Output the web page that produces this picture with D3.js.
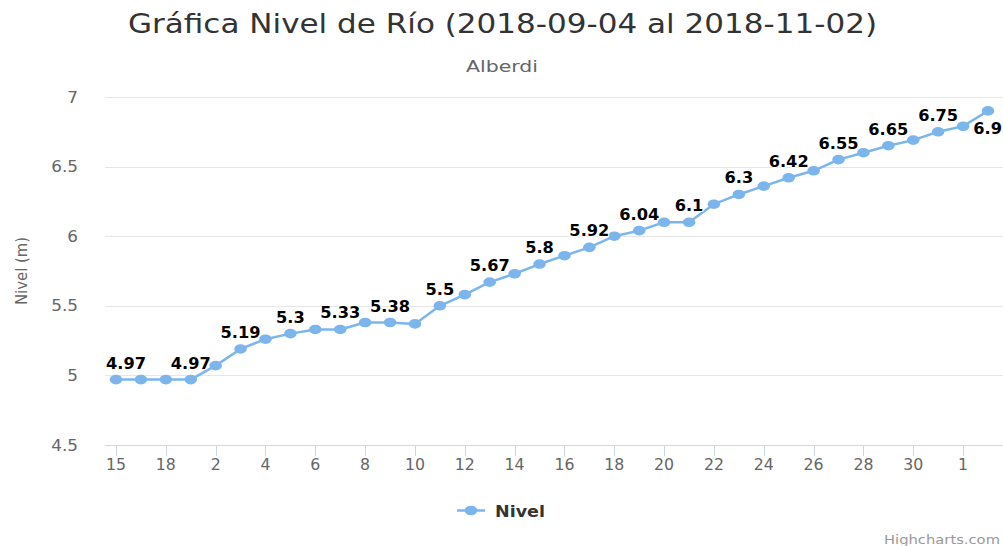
<!DOCTYPE html>
<html>
<head>
<meta charset="utf-8">
<script src="https://cdn.jsdelivr.net/npm/d3@7/dist/d3.min.js"></script>
<style>
  html, body { margin: 0; padding: 0; background: #fff; }
  svg { display: block; font-family: "DejaVu Sans", sans-serif; }
</style>
</head>
<body>
<div id="chart"></div>
<script>
// ---- données ----
const titleText    = 'Gráfica Nivel de Río (2018-09-04 al 2018-11-02)';
const subtitleText = 'Alberdi';
const yAxisTitle   = 'Nivel (m)';
const seriesName   = 'Nivel';

// jour du mois pour chaque mesure
const categories = ['15', '17', '18', '1', '2', '3', '4', '5', '6', '7', '8', '9', '10',
    '11', '12', '13', '14', '15', '16', '17', '18', '19', '20', '21', '22', '23', '24',
    '25', '26', '27', '28', '29', '30', '31', '1', '2'];

const nivel = [4.97, 4.97, 4.97, 4.97, 5.07, 5.19, 5.26, 5.30, 5.33, 5.33, 5.38, 5.38,
    5.37, 5.50, 5.58, 5.67, 5.73, 5.80, 5.86, 5.92, 6.00, 6.04, 6.10, 6.10, 6.23, 6.30,
    6.36, 6.42, 6.47, 6.55, 6.60, 6.65, 6.69, 6.75, 6.79, 6.90];

// étiquettes visibles (les autres sont masquées par chevauchement)
const labelled = [0, 3, 5, 7, 9, 11, 13, 15, 17, 19, 21, 23, 25, 27, 29, 31, 33, 35];

const yTicks = [4.5, 5, 5.5, 6, 6.5, 7];

// ---- mise en page ----
const W = 1003, H = 546;
const plot = { left: 105, right: 1003, top: 97, bottom: 445 };
const COLOR = '#7cb5ec';

const svg = d3.select('#chart').append('svg')
    .attr('width', W)
    .attr('height', H)
    .attr('viewBox', `0 0 ${W} ${H}`);

svg.append('rect').attr('width', W).attr('height', H).attr('fill', '#fff');

// étire le texte horizontalement (la capture d'origine est un peu élargie)
function stretch(sel, k) {
    sel.each(function () {
        const len = this.getComputedTextLength();
        d3.select(this).attr('textLength', len * k).attr('lengthAdjust', 'spacingAndGlyphs');
    });
}

const x = d3.scaleLinear()
    .domain([0, categories.length - 1])
    .range([116, 988]);

const y = d3.scaleLinear()
    .domain([4.5, 7])
    .range([plot.bottom, plot.top]);

// ---- titres ----
svg.append('text')
    .attr('x', 502.5).attr('y', 33)
    .attr('text-anchor', 'middle')
    .attr('font-size', '26px')
    .attr('fill', '#333333')
    .attr('textLength', 749).attr('lengthAdjust', 'spacingAndGlyphs')
    .text(titleText);

svg.append('text')
    .attr('x', 502).attr('y', 72)
    .attr('text-anchor', 'middle')
    .attr('font-size', '15px')
    .attr('fill', '#666666')
    .attr('textLength', 72).attr('lengthAdjust', 'spacingAndGlyphs')
    .text(subtitleText);

// ---- grille + axe Y ----
svg.append('g')
    .selectAll('line')
    .data(yTicks.filter(t => t !== 4.5))
    .join('line')
    .attr('x1', plot.left).attr('x2', plot.right)
    .attr('y1', d => Math.round(y(d)) + 0.5)
    .attr('y2', d => Math.round(y(d)) + 0.5)
    .attr('stroke', '#e6e6e6');

svg.append('g')
    .selectAll('text')
    .data(yTicks)
    .join('text')
    .attr('x', 78)
    .attr('y', d => y(d) + 5.5)
    .attr('text-anchor', 'end')
    .attr('font-size', '15px')
    .attr('fill', '#666666')
    .text(d => d)
    .call(stretch, 1.12);

svg.append('text')
    .attr('transform', 'translate(27,271) rotate(-90)')
    .attr('text-anchor', 'middle')
    .attr('font-size', '15px')
    .attr('fill', '#666666')
    .attr('textLength', 68).attr('lengthAdjust', 'spacingAndGlyphs')
    .text(yAxisTitle);

// ---- axe X ----
const xAxis = svg.append('g');
xAxis.append('line')
    .attr('x1', plot.left).attr('x2', plot.right)
    .attr('y1', plot.bottom + 0.5).attr('y2', plot.bottom + 0.5)
    .attr('stroke', '#ccd6eb');

const tickIdx = d3.range(0, categories.length, 2);
xAxis.selectAll('line.tick')
    .data(tickIdx)
    .join('line')
    .attr('class', 'tick')
    .attr('x1', i => Math.round(x(i)) + 0.5)
    .attr('x2', i => Math.round(x(i)) + 0.5)
    .attr('y1', plot.bottom)
    .attr('y2', plot.bottom + 11)
    .attr('stroke', '#ccd6eb');

xAxis.selectAll('text')
    .data(tickIdx)
    .join('text')
    .attr('x', i => x(i))
    .attr('y', 470)
    .attr('text-anchor', 'middle')
    .attr('font-size', '15px')
    .attr('fill', '#666666')
    .text(i => categories[i])
    .call(stretch, 1.05);

// ---- série ----
const line = d3.line()
    .x((d, i) => x(i))
    .y(d => y(d));

svg.append('path')
    .datum(nivel)
    .attr('d', line)
    .attr('fill', 'none')
    .attr('stroke', COLOR)
    .attr('stroke-width', 2.5)
    .attr('stroke-linejoin', 'round');

svg.append('g')
    .selectAll('ellipse')
    .data(nivel)
    .join('ellipse')
    .attr('cx', (d, i) => x(i))
    .attr('cy', d => y(d))
    .attr('rx', 6.3)
    .attr('ry', 4.8)
    .attr('fill', COLOR);

// ---- étiquettes de données ----
const labels = svg.append('g')
    .selectAll('text')
    .data(labelled)
    .join('text')
    .attr('x', i => x(i))
    .attr('y', i => y(nivel[i]) - 11)
    .attr('text-anchor', 'middle')
    .attr('font-size', '15px')
    .attr('font-weight', 'bold')
    .attr('fill', '#000')
    .attr('stroke', '#fff')
    .attr('stroke-width', 2)
    .attr('paint-order', 'stroke')
    .attr('stroke-linejoin', 'round')
    .text(i => d3.format('')(nivel[i]))
    .call(stretch, 1.08);

// justification : une étiquette qui sort du cadre est ramenée dedans,
// et passe sous le point si elle dépasse en haut
labels.each(function (i) {
    const el  = d3.select(this);
    const w   = +el.attr('textLength');
    const py  = y(nivel[i]);
    if (py - 11 - 11 < plot.top) el.attr('y', py + 23);
    const cx = x(i);
    if (cx + w / 2 > W - 1) el.attr('x', W - 1 - w / 2);
    if (cx - w / 2 < plot.left + 1) el.attr('x', plot.left + 1 + w / 2);
});

// ---- légende ----
const legend = svg.append('g');
legend.append('line')
    .attr('x1', 457).attr('x2', 485)
    .attr('y1', 510.5).attr('y2', 510.5)
    .attr('stroke', COLOR)
    .attr('stroke-width', 2.5);
legend.append('ellipse')
    .attr('cx', 471).attr('cy', 510.5)
    .attr('rx', 6.3).attr('ry', 4.8)
    .attr('fill', COLOR);
legend.append('text')
    .attr('x', 495).attr('y', 517)
    .attr('font-size', '15px')
    .attr('font-weight', 'bold')
    .attr('fill', '#333333')
    .attr('textLength', 50).attr('lengthAdjust', 'spacingAndGlyphs')
    .text(seriesName);

// ---- crédits ----
svg.append('text')
    .attr('x', 1000).attr('y', 544)
    .attr('text-anchor', 'end')
    .attr('font-size', '12px')
    .attr('fill', '#999999')
    .attr('textLength', 116).attr('lengthAdjust', 'spacingAndGlyphs')
    .text('Highcharts.com');
</script>
</body>
</html>
